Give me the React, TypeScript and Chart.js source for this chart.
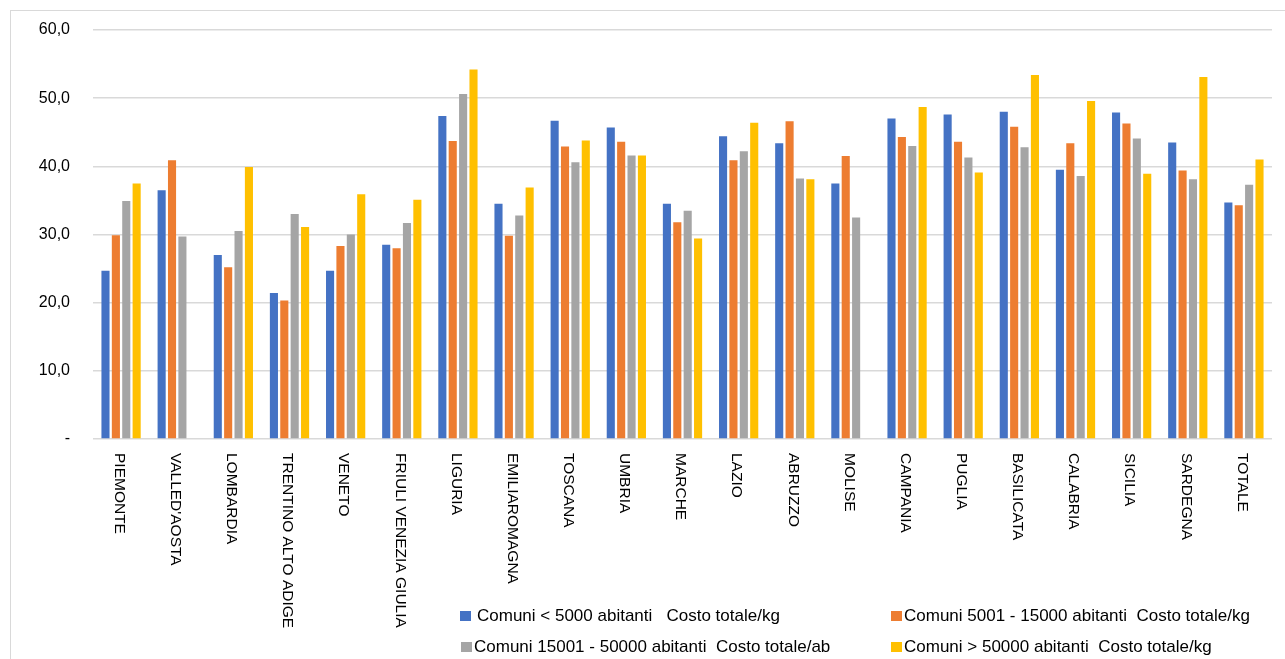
import React, { useEffect, useRef } from "react";
import { Chart, registerables } from "chart.js";

Chart.register(...registerables);

const categories = [
  "PIEMONTE", "VALLED'AOSTA", "LOMBARDIA", "TRENTINO ALTO ADIGE", "VENETO",
  "FRIULI VENEZIA GIULIA", "LIGURIA", "EMILIAROMAGNA", "TOSCANA", "UMBRIA",
  "MARCHE", "LAZIO", "ABRUZZO", "MOLISE", "CAMPANIA", "PUGLIA", "BASILICATA",
  "CALABRIA", "SICILIA", "SARDEGNA", "TOTALE",
];

const seriesNames = [
  "Comuni < 5000 abitanti   Costo totale/kg",
  "Comuni 5001 - 15000 abitanti  Costo totale/kg",
  "Comuni 15001 - 50000 abitanti  Costo totale/ab",
  "Comuni > 50000 abitanti  Costo totale/kg",
];

const comuniSotto5000 = [24.7, 36.5, 27.0, 21.4, 24.7, 28.5, 47.4, 34.5, 46.7, 45.7, 34.5, 44.4, 43.4, 37.5, 47.0, 47.6, 48.0, 39.5, 47.9, 43.5, 34.7];
const comuni5001_15000 = [29.9, 40.9, 25.2, 20.3, 28.3, 28.0, 43.7, 29.8, 42.9, 43.6, 31.8, 40.9, 46.6, 41.5, 44.3, 43.6, 45.8, 43.4, 46.3, 39.4, 34.3];
const comuni15001_50000 = [34.9, 29.7, 30.5, 33.0, 30.0, 31.7, 50.6, 32.8, 40.6, 41.6, 33.5, 42.2, 38.2, 32.5, 43.0, 41.3, 42.8, 38.6, 44.1, 38.1, 37.3];
const comuniSopra50000 = [37.5, null, 39.9, 31.1, 35.9, 35.1, 54.2, 36.9, 43.8, 41.6, 29.4, 46.4, 38.1, null, 48.7, 39.1, 53.4, 49.6, 38.9, 53.1, 41.0];

const colors = ["#4472C4", "#ED7D31", "#A5A5A5", "#FFC000"];
const yTicks = [0, 10, 20, 30, 40, 50, 60];

const FONT = '"Liberation Sans", Arial, sans-serif';

const rotatedLabels = {
  id: "rotatedLabels",
  afterDraw(chart: any) {
    const scale = chart.scales.x;
    const ctx = chart.ctx;
    ctx.save();
    ctx.fillStyle = "#000";
    ctx.font = `15.5px ${FONT}`;
    ctx.textAlign = "left";
    ctx.textBaseline = "middle";
    categories.forEach((label, i) => {
      const x = scale.getPixelForTick(i) - 2;
      ctx.save();
      ctx.translate(x, scale.top + 14);
      ctx.rotate(Math.PI / 2);
      ctx.fillText(label, 0, 0);
      ctx.restore();
    });
    ctx.restore();
  },
};

export default function App() {
  const ref = useRef<HTMLCanvasElement | null>(null);
  useEffect(() => {
    if (!ref.current) return;
    const data = [comuniSotto5000, comuni5001_15000, comuni15001_50000, comuniSopra50000];
    const chart = new Chart(ref.current, {
      type: "bar",
      data: {
        labels: categories,
        datasets: data.map((d, i) => ({
          label: seriesNames[i],
          data: d,
          backgroundColor: colors[i],
          borderWidth: 0,
          categoryPercentage: 0.74,
          barPercentage: 0.78,
        })),
      },
      options: {
        animation: false,
        responsive: false,
        maintainAspectRatio: false,
        layout: { padding: { top: 30, right: 13, left: 0, bottom: 0 } },
        plugins: { legend: { display: false }, tooltip: { enabled: false } },
        scales: {
          x: {
            grid: { display: false },
            border: { display: false },
            ticks: { display: false },
            afterFit(scale: any) {
              scale.height = 220;
            },
          },
          y: {
            min: 0,
            max: 60,
            afterBuildTicks(scale: any) {
              scale.ticks = yTicks.map((v) => ({ value: v }));
            },
            afterFit(scale: any) {
              scale.width = 93;
            },
            grid: { color: "#d9d9d9", lineWidth: 1.5, drawTicks: false },
            border: { display: false },
            ticks: {
              padding: 23,
              color: "#000",
              font: { family: FONT, size: 16, lineHeight: 0.8 },
              callback: (v: any) => (Number(v) === 0 ? "-" : Number(v).toFixed(1).replace(".", ",")),
            },
          },
        },
      },
      plugins: [rotatedLabels],
    });
    return () => chart.destroy();
  }, []);

  const legendItem = (i: number, left: number, centerY: number, gap: number) => (
    <div
      key={i}
      style={{
        position: "absolute",
        left,
        top: centerY - 12,
        height: 24,
        display: "flex",
        alignItems: "center",
        fontFamily: FONT,
        fontSize: 17,
        color: "#000",
        whiteSpace: "pre",
      }}
    >
      <span style={{ display: "inline-block", width: 11, height: 10, background: colors[i], marginRight: gap }} />
      <span>{seriesNames[i]}</span>
    </div>
  );

  return (
    <div style={{ position: "fixed", left: 0, top: 0, width: 1285, height: 659, background: "#fff", overflow: "hidden" }}>
      <div
        style={{
          position: "absolute",
          left: 10,
          top: 10,
          width: 1300,
          height: 700,
          borderLeft: "1.5px solid #d9d9d9",
          borderTop: "1.5px solid #d9d9d9",
        }}
      />
      <canvas ref={ref} width={1285} height={659} style={{ position: "absolute", left: 0, top: 0 }} />
      {legendItem(0, 460, 616, 6)}
      {legendItem(1, 891, 616, 2)}
      {legendItem(2, 461, 647, 2)}
      {legendItem(3, 891, 647, 2)}
    </div>
  );
}
